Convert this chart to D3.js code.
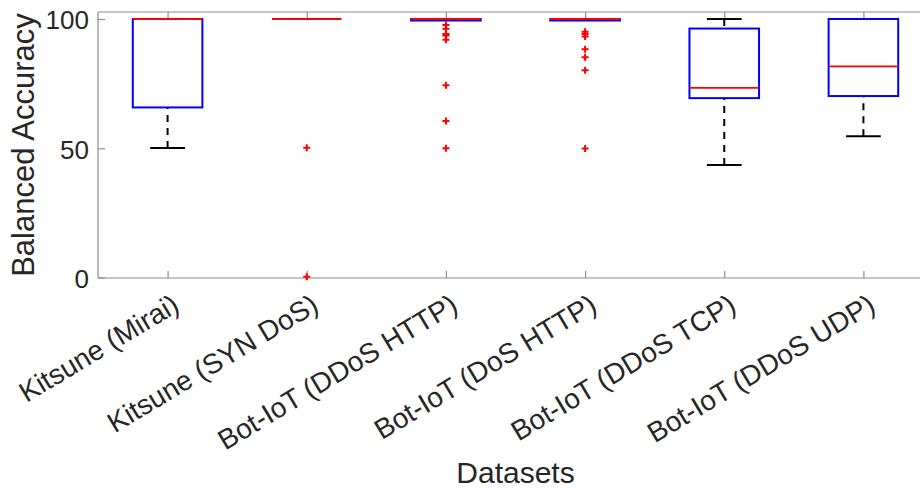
<!DOCTYPE html>
<html>
<head>
<meta charset="utf-8">
<script src="https://cdn.jsdelivr.net/npm/d3@7/dist/d3.min.js"></script>
<style>
  html, body { margin: 0; padding: 0; background: #ffffff; }
  svg { display: block; }
  text { font-family: "Liberation Sans", Arial, Helvetica, sans-serif; }
</style>
</head>
<body>
<svg id="chart" width="920" height="489"></svg>
<script>
// ---- data ----
const categories = ["Kitsune (Mirai)", "Kitsune (SYN DoS)", "Bot-IoT (DDoS HTTP)", "Bot-IoT (DoS HTTP)", "Bot-IoT (DDoS TCP)", "Bot-IoT (DDoS UDP)"];
const whiskerLow  = [50.1, 100, 99.4, 99.4, 43.5, 54.7];
const q1Values    = [65.8, 100, 99.4, 99.4, 69.4, 70.2];
const medians     = [100, 100, 100, 100, 73.4, 81.7];
const q3Values    = [100, 100, 100, 100, 96.3, 100];
const whiskerHigh = [100, 100, 100, 100, 100, 100];
const outliers = [
  [],
  [50.2, 0.3],
  [97.7, 96.2, 94.2, 93.6, 92.0, 74.4, 60.6, 50.0],
  [95.1, 94.2, 93.2, 88.3, 85.2, 80.2, 49.9],
  [],
  []
];
const yTicks = [0, 50, 100];
const yLabel = "Balanced Accuracy";
const xLabel = "Datasets";

(function () {
// ---- layout ----
const svg = d3.select("#chart");
const mLeft = 98, mRight = 933, mTop = 12, mBottom = 278;
const x = d3.scaleLinear().domain([0.5, categories.length + 0.5]).range([mLeft, mRight]);
const y = d3.scaleLinear().domain([-0.15, 102.7]).range([mBottom, mTop]);
const boxHalf = (x(1) - x(0)) * 0.25;
const capHalf = boxHalf * 0.5;
const axisColor = "#8c8c8c";
const textColor = "#262626";

// axes box lines (top, bottom, left)
const g = svg.append("g");
g.append("line").attr("x1", mLeft).attr("x2", mRight).attr("y1", mBottom).attr("y2", mBottom)
  .attr("stroke", axisColor).attr("stroke-width", 1.2);
g.append("line").attr("x1", mLeft).attr("x2", mRight).attr("y1", mTop).attr("y2", mTop)
  .attr("stroke", axisColor).attr("stroke-width", 1.2);
g.append("line").attr("x1", mLeft).attr("x2", mLeft).attr("y1", mTop).attr("y2", mBottom)
  .attr("stroke", axisColor).attr("stroke-width", 1.2);

// y axis (ticks inside)
const yAxis = d3.axisLeft(y).tickValues(yTicks).tickSize(-7).tickPadding(9).tickFormat(d3.format("d"));
const ya = svg.append("g").attr("transform", `translate(${mLeft},0)`).call(yAxis);
ya.select(".domain").remove();
ya.selectAll(".tick line").attr("stroke", axisColor).attr("stroke-width", 1.2);
ya.selectAll(".tick text").attr("fill", textColor).style("font-size", "26px")
  .style("font-family", '"Liberation Sans", Arial, sans-serif').attr("dy", "0.38em");

// x axis bottom (ticks inside)
const idx = d3.range(1, categories.length + 1);
const xAxis = d3.axisBottom(x).tickValues(idx).tickSize(-7).tickFormat((d) => categories[d - 1]);
const xa = svg.append("g").attr("transform", `translate(0,${mBottom})`).call(xAxis);
xa.select(".domain").remove();
xa.selectAll(".tick line").attr("stroke", axisColor).attr("stroke-width", 1.2);
xa.selectAll(".tick text")
  .attr("fill", textColor)
  .style("font-size", "28px")
  .style("font-family", '"Liberation Sans", Arial, sans-serif')
  .attr("text-anchor", "end")
  .attr("x", 0).attr("y", 0).attr("dy", 0)
  .attr("transform", "translate(13,32) rotate(-31)");

// x ticks on top (inside)
const xTop = d3.axisTop(x).tickValues(idx).tickSize(-7).tickFormat("");
const xt = svg.append("g").attr("transform", `translate(0,${mTop})`).call(xTop);
xt.select(".domain").remove();
xt.selectAll(".tick line").attr("stroke", axisColor).attr("stroke-width", 1.2);

// ---- boxplots ----
const plot = svg.append("g");
categories.forEach((c, i) => {
  const cx = x(i + 1);
  if (whiskerLow[i] < q1Values[i]) {
    plot.append("line").attr("x1", cx).attr("x2", cx)
      .attr("y1", y(whiskerLow[i])).attr("y2", y(q1Values[i]))
      .attr("stroke", "#000").attr("stroke-width", 2).attr("stroke-dasharray", "7,6");
    plot.append("line").attr("x1", cx - capHalf).attr("x2", cx + capHalf)
      .attr("y1", y(whiskerLow[i])).attr("y2", y(whiskerLow[i]))
      .attr("stroke", "#000").attr("stroke-width", 2);
  }
  if (whiskerHigh[i] > q3Values[i]) {
    plot.append("line").attr("x1", cx).attr("x2", cx)
      .attr("y1", y(whiskerHigh[i])).attr("y2", y(q3Values[i]))
      .attr("stroke", "#000").attr("stroke-width", 2).attr("stroke-dasharray", "7,6");
    plot.append("line").attr("x1", cx - capHalf).attr("x2", cx + capHalf)
      .attr("y1", y(whiskerHigh[i])).attr("y2", y(whiskerHigh[i]))
      .attr("stroke", "#000").attr("stroke-width", 2);
  }
  if (q3Values[i] > q1Values[i]) {
    plot.append("rect")
      .attr("x", cx - boxHalf).attr("width", boxHalf * 2)
      .attr("y", y(q3Values[i])).attr("height", y(q1Values[i]) - y(q3Values[i]))
      .attr("fill", "none").attr("stroke", "#0000ff").attr("stroke-width", 2);
  }
  plot.append("line").attr("x1", cx - boxHalf).attr("x2", cx + boxHalf)
    .attr("y1", y(medians[i])).attr("y2", y(medians[i]))
    .attr("stroke", "#ff0000").attr("stroke-width", 1.8);
  outliers[i].forEach((v) => {
    const py = y(v);
    plot.append("path")
      .attr("d", `M${cx - 3.5},${py}H${cx + 3.5}M${cx},${py - 3.5}V${py + 3.5}`)
      .attr("stroke", "#ff0000").attr("stroke-width", 2).attr("fill", "none");
  });
});

// axis labels
svg.append("text").attr("x", (mLeft + mRight) / 2).attr("y", 483)
  .attr("text-anchor", "middle").attr("fill", textColor)
  .style("font-size", "30px").text(xLabel);
svg.append("text").attr("transform", `translate(34,${(mTop + mBottom) / 2}) rotate(-90)`)
  .attr("text-anchor", "middle").attr("fill", textColor)
  .style("font-size", "31px").text(yLabel);
})();
</script>
</body>
</html>
